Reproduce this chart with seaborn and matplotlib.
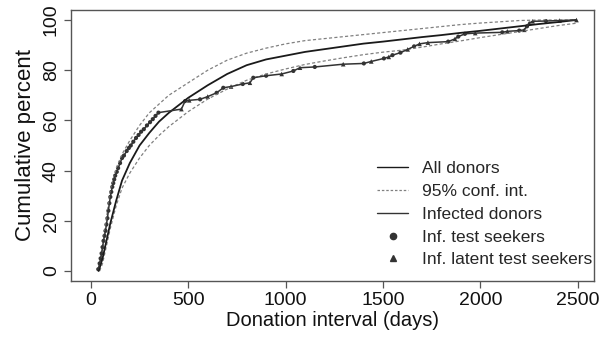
import numpy as np
import pandas as pd
import matplotlib
matplotlib.use("Agg")
import matplotlib.pyplot as plt
import seaborn as sns
from matplotlib.lines import Line2D

# ---- data ----
all_x = [40, 60, 80, 100, 130, 160, 200, 250, 300, 350, 400, 450, 500, 600, 700, 800, 900,
         1000, 1100, 1200, 1300, 1400, 1500, 1600, 1700, 1800, 1900, 2000, 2100, 2200, 2300, 2400, 2490]
all_y = [0, 5, 12, 19, 28, 36, 43, 50, 55, 59.5, 63, 66, 69, 74, 78.5, 82, 84.3,
         85.8, 87.3, 88.4, 89.5, 90.6, 91.4, 92.3, 93.2, 94.0, 94.9, 95.7, 96.6, 97.5, 98.4, 99.2, 100]

ci_x = [45, 60, 80, 100, 130, 160, 200, 250, 300, 350, 400, 500, 600, 700, 800, 900, 1000,
        1100, 1200, 1300, 1400, 1500, 1600, 1700, 1800, 1900, 2000, 2100, 2200, 2300, 2400, 2490]
ci_upper = [1, 9, 21, 32, 41, 46.5, 52, 58, 63, 66.5, 70, 75, 80, 84, 86.8, 88.8, 90.5,
            91.8, 92.6, 93.4, 94.2, 95.0, 95.8, 96.6, 97.4, 98.2, 98.8, 99.3, 99.8, 100, 100, 100]
ci_lower = [0, 3, 10, 17, 26, 33, 39, 45, 50, 54, 57.5, 63.5, 68.5, 72.5, 76, 78.5, 80.5,
            82.3, 83.7, 85.0, 86.2, 87.2, 88.0, 89.2, 90.5, 91.7, 93.0, 94.2, 95.4, 96.6, 97.8, 98.7]

inf_x = [38, 45, 50, 55, 60, 65, 70, 75, 80, 85, 90, 95, 100, 105, 110, 115, 120, 125, 133,
         140, 150, 160, 170, 184, 195, 205, 218, 232, 245, 258, 272, 288, 304, 318, 332, 347,
         465, 484, 505, 561, 600, 646, 680, 720, 780, 817, 834, 900, 980, 1040, 1074, 1150,
         1296, 1402, 1440, 1505, 1530, 1549, 1590, 1627, 1660, 1688, 1731, 1835, 1870, 1887,
         1921, 1974, 2113, 2139, 2200, 2226, 2240, 2251, 2269, 2337, 2407, 2494]
inf_y = [0.7, 3, 5, 7, 9.5, 12, 14, 16, 18.5, 21, 24, 27, 29.5, 31.5, 33.5, 35, 36.5, 38, 39.5,
         41, 43, 45, 46, 47.8, 49, 50, 51.5, 53, 54.2, 55.5, 56.5, 58, 59.3, 60.5, 61.8, 63.1,
         64.5, 67.7, 68, 68.4, 69.5, 71, 73, 73.5, 74.5, 75, 77, 77.8, 78.5, 79.7, 81, 81.3,
         82.4, 82.7, 83.5, 84.7, 85.3, 86, 87, 88.3, 89.5, 90.5, 91, 91.4, 92.5, 93.4,
         94.5, 94.8, 95.1, 95.5, 95.8, 96.1, 97.5, 98.8, 99.5, 99.6, 99.8, 100]
inf_type = (["seeker"] * 36 +
            ["latent", "seeker", "latent", "seeker", "latent", "seeker", "seeker", "latent",
             "seeker", "latent", "seeker", "seeker", "latent", "seeker", "latent", "seeker",
             "latent", "seeker", "latent", "seeker", "latent", "seeker", "seeker", "latent",
             "seeker", "latent", "latent", "seeker", "latent", "seeker",
             "seeker", "latent", "seeker", "latent", "seeker", "latent", "seeker", "latent",
             "latent", "seeker", "latent", "latent"])

legend_labels = ["All donors", "95% conf. int.", "Infected donors",
                 "Inf. test seekers", "Inf. latent test seekers"]

# ---- styling ----
sns.set_theme(style="ticks")
plt.rcParams["font.family"] = ["Liberation Sans", "DejaVu Sans"]

fig = plt.figure(figsize=(6.0, 3.4), dpi=100)
ax = fig.add_axes([71 / 600, 1 - 281 / 340, (594 - 71) / 600, (281 - 10) / 340])

frame_col = "#555555"
dash_col = "#808080"

df_all = pd.DataFrame({"x": all_x, "y": all_y})
df_ci = pd.DataFrame({"x": ci_x, "lo": ci_lower, "hi": ci_upper})
df_inf = pd.DataFrame({"x": inf_x, "y": inf_y, "type": inf_type})

sns.lineplot(data=df_ci, x="x", y="hi", ax=ax, color=dash_col, lw=0.9,
             linestyle=(0, (2.5, 1.8)), estimator=None, sort=False)
sns.lineplot(data=df_ci, x="x", y="lo", ax=ax, color=dash_col, lw=0.9,
             linestyle=(0, (2.5, 1.8)), estimator=None, sort=False)
sns.lineplot(data=df_all, x="x", y="y", ax=ax, color="#1a1a1a", lw=1.3,
             estimator=None, sort=False)
sns.lineplot(data=df_inf, x="x", y="y", ax=ax, color="#333333", lw=1.1,
             estimator=None, sort=False)
sns.scatterplot(data=df_inf[df_inf["type"] == "seeker"], x="x", y="y", ax=ax,
                marker="o", s=9, color="#333333", edgecolor="none", legend=False)
sns.scatterplot(data=df_inf[df_inf["type"] == "latent"], x="x", y="y", ax=ax,
                marker="^", s=11, color="#333333", edgecolor="none", legend=False)

ax.set_xlim(-102, 2584)
ax.set_ylim(-4, 104)
ax.set_xticks([0, 500, 1000, 1500, 2000, 2500])
ax.set_yticks([0, 20, 40, 60, 80, 100])
ax.tick_params(axis="both", direction="out", length=5, width=0.9, color=frame_col,
               labelsize=14, labelcolor="#111111", pad=3)
for lab in ax.get_yticklabels():
    lab.set_rotation(90)
    lab.set_va("center")
for sp in ax.spines.values():
    sp.set_visible(True)
    sp.set_color(frame_col)
    sp.set_linewidth(1.0)

ax.set_xlabel("Donation interval (days)", fontsize=14.5, color="#111111", labelpad=1)
ax.set_ylabel("Cumulative percent", fontsize=16, color="#111111", labelpad=5)

handles = [
    Line2D([], [], color="#1a1a1a", lw=1.0),
    Line2D([], [], color=dash_col, lw=0.9, linestyle=(0, (2, 1.5))),
    Line2D([], [], color="#333333", lw=1.0),
    Line2D([], [], color="#333333", lw=0, marker="o", markersize=4.5),
    Line2D([], [], color="#333333", lw=0, marker="^", markersize=5),
]
ax.legend(handles, legend_labels, loc="lower left", bbox_to_anchor=(0.585, 0.05),
          frameon=False, fontsize=12.5, handlelength=1.8, handletextpad=0.8,
          labelspacing=0.44, borderpad=0, borderaxespad=0)

fig.savefig("out.png", dpi=100)
